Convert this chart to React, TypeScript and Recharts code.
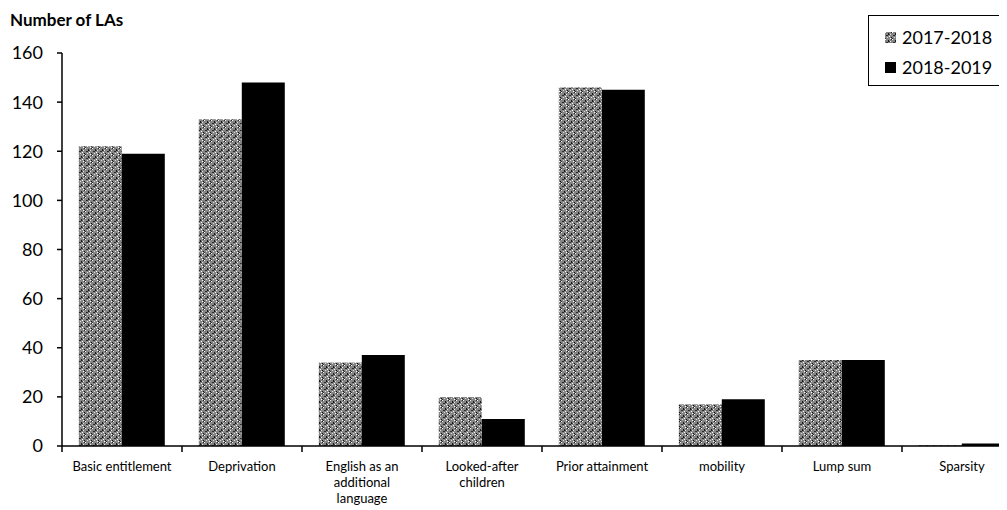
import { BarChart, Bar, XAxis, YAxis } from 'recharts'

const categories = [
  'Basic entitlement',
  'Deprivation',
  'English as an additional language',
  'Looked-after children',
  'Prior attainment',
  'mobility',
  'Lump sum',
  'Sparsity',
]
const tickLines = [
  ['Basic entitlement'],
  ['Deprivation'],
  ['English as an', 'additional', 'language'],
  ['Looked-after', 'children'],
  ['Prior attainment'],
  ['mobility'],
  ['Lump sum'],
  ['Sparsity'],
]
const values2017 = [122, 133, 34, 20, 146, 17, 35, 0.3]
const values2018 = [119, 148, 37, 11, 145, 19, 35, 1]
const seriesNames = ['2017-2018', '2018-2019']
const yTicks = [0, 20, 40, 60, 80, 100, 120, 140, 160]

const data = categories.map((name, i) => ({ name, a: values2017[i], b: values2018[i] }))

const FONT = 'Lato, "Open Sans", sans-serif'
const CHART_W = 1032
const Y_W = 54
const RIGHT = 18
const BAND = (CHART_W - Y_W - RIGHT) / categories.length

function XTick(props: any) {
  const { x, y, payload } = props
  const lines = tickLines[payload.index] || [payload.value]
  const left = x - BAND / 2
  return (
    <g>
      <line x1={left} y1={y} x2={left} y2={y + 6} stroke="#000" strokeWidth={1.5} />
      {lines.map((l: string, i: number) => (
        <text
          key={i}
          x={x}
          y={y + 25 + i * 16}
          textAnchor="middle"
          fontSize={13}
          fontFamily={FONT}
          fill="#000"
        >
          {l}
        </text>
      ))}
    </g>
  )
}

function Swatch({ fill }: { fill: string }) {
  return (
    <svg width={11} height={11} style={{ marginRight: 6 }}>
      <rect x={0} y={0} width={11} height={11} fill={fill} />
    </svg>
  )
}

export default function App() {
  const fills = ['url(#speckle)', '#000']
  return (
    <div style={{ position: 'relative', width: 999, height: 502, overflow: 'hidden', fontFamily: FONT }}>
      <svg width={0} height={0} style={{ position: 'absolute' }}>
        <defs>
          <pattern id="speckle" width={7} height={7} patternUnits="userSpaceOnUse">
            <rect width={7} height={7} fill="#858585" />
            <rect x={0} y={0} width={1} height={1} fill="#fff" />
            <rect x={3} y={1} width={1} height={2} fill="#1a1a1a" />
            <rect x={5} y={2} width={1} height={1} fill="#e8e8e8" />
            <rect x={1} y={3} width={2} height={1} fill="#2a2a2a" />
            <rect x={4} y={4} width={1} height={1} fill="#fff" />
            <rect x={6} y={5} width={1} height={1} fill="#111" />
            <rect x={2} y={5} width={1} height={1} fill="#ddd" />
            <rect x={0} y={6} width={1} height={1} fill="#333" />
            <rect x={5} y={6} width={1} height={1} fill="#fff" />
            <rect x={6} y={0} width={1} height={1} fill="#222" />
            <rect x={4} y={2} width={1} height={1} fill="#444" />
          </pattern>
        </defs>
      </svg>
      <div
        style={{
          position: 'absolute',
          left: 2,
          top: 1,
          fontSize: 17,
          fontWeight: 700,
          color: '#000',
          zIndex: 2,
        }}
      >
        Number of LAs
      </div>
      <div
        style={{
          position: 'absolute',
          left: 860,
          top: 7,
          width: 170,
          height: 71,
          border: '1.5px solid #000',
          background: '#fff',
          zIndex: 2,
          paddingLeft: 16,
          paddingTop: 6,
          boxSizing: 'border-box',
        }}
      >
        {seriesNames.map((n, i) => (
          <div key={n} style={{ display: 'flex', alignItems: 'center', height: 30, fontSize: 18, color: '#000' }}>
            <Swatch fill={fills[i]} />
            {n}
          </div>
        ))}
      </div>
      <BarChart
        width={CHART_W}
        height={502}
        data={data}
        margin={{ top: 45, right: RIGHT, bottom: 0, left: 0 }}
        barCategoryGap="14%"
        barGap={0}
      >
        <XAxis
          dataKey="name"
          height={64}
          interval={0}
          tickSize={0}
          tickMargin={0}
          tick={<XTick />}
          axisLine={{ stroke: '#000', strokeWidth: 1.5 }}
        />
        <YAxis
          width={Y_W}
          domain={[0, 160]}
          ticks={yTicks}
          interval={0}
          tickSize={5}
          tickMargin={14}
          tick={{ fontSize: 18, fill: '#000', fontFamily: FONT }}
          axisLine={{ stroke: '#000', strokeWidth: 1.5 }}
          tickLine={{ stroke: '#000', strokeWidth: 1.5 }}
        />
        <Bar dataKey="a" name={seriesNames[0]} fill="url(#speckle)" isAnimationActive={false} />
        <Bar dataKey="b" name={seriesNames[1]} fill="#000" isAnimationActive={false} />
      </BarChart>
    </div>
  )
}
